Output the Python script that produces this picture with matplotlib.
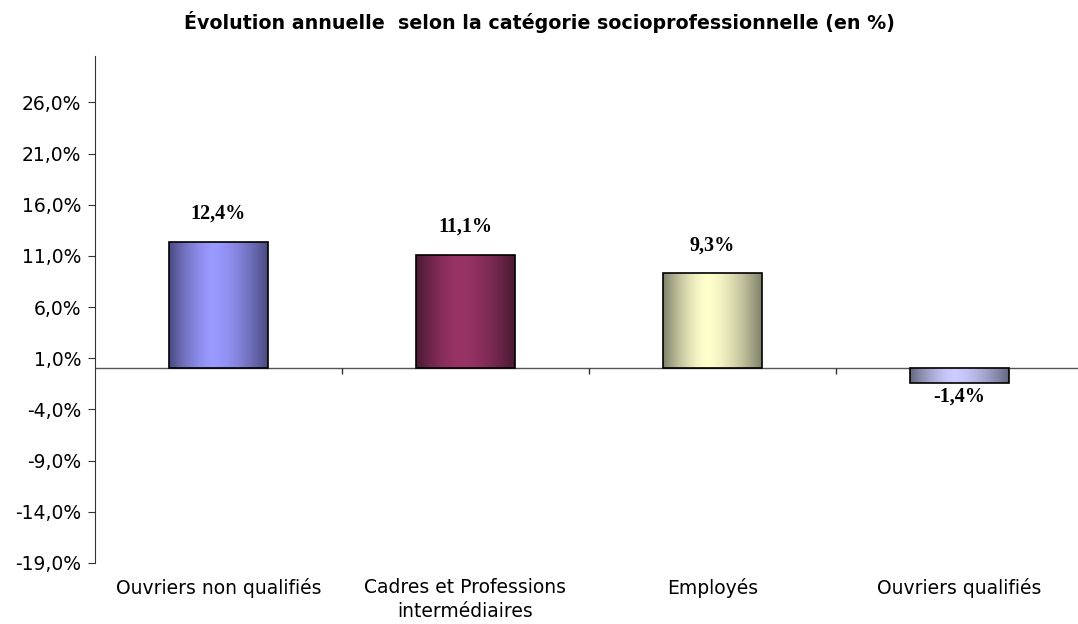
import numpy as np
import matplotlib
matplotlib.use("Agg")
import matplotlib.pyplot as plt
from matplotlib.colors import LinearSegmentedColormap

plt.rcParams['font.family'] = ['DejaVu Sans']

# data
categories = ["Ouvriers non qualifiés", "Cadres et Professions\nintermédiaires",
              "Employés", "Ouvriers qualifiés"]
values = [12.4, 11.1, 9.3, -1.4]
labels = ["12,4%", "11,1%", "9,3%", "-1,4%"]
yticks = [-19, -14, -9, -4, 1, 6, 11, 16, 21, 26]

# colours: (edge shade, centre shade)
bar_colors = [("#4a4a80", "#9999ff"), ("#4a1a33", "#993366"),
              ("#80806a", "#ffffcc"), ("#666680", "#ccccff")]

fig = plt.figure(figsize=(10.78, 6.24), dpi=100)
ax = fig.add_axes([0.0881, 0.0978, 0.9165, 0.812])

x = np.arange(len(categories))
bars = ax.bar(x, values, width=0.4, color="none", edgecolor="black", linewidth=1.2, zorder=3)

# horizontal gradient inside each bar: dark edges, light around 45%
t = np.linspace(0, 1, 300)
peak = 0.45
d = np.where(t < peak, (peak - t) / peak, (t - peak) / (1 - peak))
g = 1 - d ** 1.6
grad = g.reshape(1, -1)
for b, (dark, light) in zip(bars, bar_colors):
    cmap = LinearSegmentedColormap.from_list("g", [dark, light])
    x0, w = b.get_x(), b.get_width()
    y0, h = b.get_y(), b.get_height()
    im = ax.imshow(grad, cmap=cmap, aspect="auto", extent=[x0, x0 + w, y0, y0 + h],
                   origin="lower", zorder=2, vmin=0, vmax=1)
    im.set_clip_path(b)

ax.set_xlim(-0.5, 3.5)
ax.set_ylim(-19, 30.5)

# value labels
for xi, v, lab in zip(x, values, labels):
    off = 20 if v >= 0 else -10
    ax.annotate(lab, (xi, v), xytext=(0, off), textcoords="offset points",
                ha="center", va="center", fontsize=14.5, fontweight="bold",
                family="Liberation Serif")

# zero line and category separators
ax.axhline(0, color="#555555", linewidth=1, zorder=1)
ax.vlines([0.5, 1.5, 2.5], -0.5, 0, color="#333333", linewidth=1)

ax.set_yticks(yticks)
ax.set_yticklabels([f"{v},0%" for v in yticks], fontsize=13.5)
ax.set_xticks(x)
ax.set_xticklabels(categories, fontsize=13.5, linespacing=1.3)
ax.tick_params(axis="x", length=0, pad=11)
ax.tick_params(axis="y", length=5, color="#333333", pad=5)

for s in ["top", "right", "bottom"]:
    ax.spines[s].set_visible(False)
ax.spines["left"].set_color("#333333")

fig.suptitle("Évolution annuelle  selon la catégorie socioprofessionnelle (en %)",
             x=0.5, y=0.982, fontsize=13.7, fontweight="bold")

fig.savefig("out.png", dpi=100)
